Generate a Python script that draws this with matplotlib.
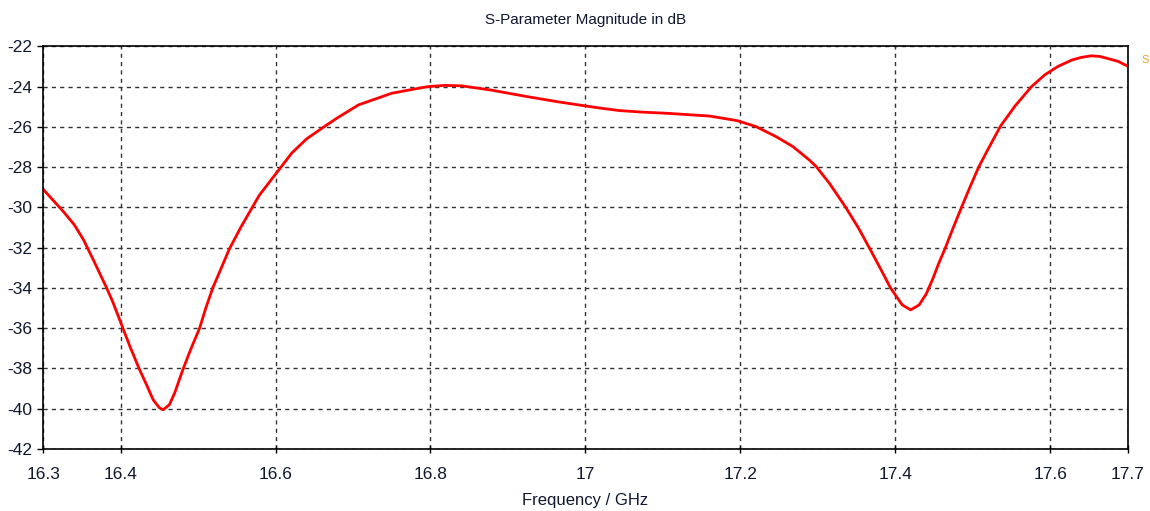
import matplotlib.pyplot as plt

# Data
freq_ghz = [16.300, 16.326, 16.340, 16.352, 16.366, 16.382, 16.390, 16.400, 16.412,
            16.425, 16.434, 16.442, 16.450, 16.455, 16.463, 16.470, 16.480, 16.490,
            16.502, 16.510, 16.519, 16.529, 16.540, 16.555, 16.570, 16.579, 16.600,
            16.621, 16.640, 16.664, 16.680, 16.707, 16.730, 16.750, 16.775, 16.797,
            16.818, 16.840, 16.878, 16.921, 16.964, 17.000, 17.020, 17.044, 17.075,
            17.108, 17.135, 17.160, 17.196, 17.220, 17.247, 17.268, 17.289, 17.298,
            17.315, 17.336, 17.353, 17.370, 17.380, 17.394, 17.409, 17.420, 17.431,
            17.440, 17.448, 17.456, 17.465, 17.475, 17.486, 17.497, 17.508, 17.520,
            17.536, 17.555, 17.576, 17.593, 17.610, 17.628, 17.640, 17.653, 17.664,
            17.674, 17.688, 17.700]
s11_db = [-29.1, -30.2, -30.85, -31.6, -32.7, -34.0, -34.7, -35.7, -36.9,
          -38.1, -38.85, -39.55, -39.95, -40.05, -39.8, -39.2, -38.1, -37.1,
          -36.0, -35.0, -34.0, -33.1, -32.1, -31.0, -30.0, -29.4, -28.35,
          -27.3, -26.6, -25.96, -25.55, -24.91, -24.6, -24.33, -24.15, -24.0,
          -23.94, -23.96, -24.17, -24.47, -24.75, -24.96, -25.07, -25.19, -25.27,
          -25.33, -25.4, -25.46, -25.69, -25.98, -26.5, -26.98, -27.64, -27.97,
          -28.8, -29.99, -31.05, -32.25, -32.97, -34.0, -34.84, -35.09, -34.84,
          -34.3, -33.6, -32.8, -31.98, -31.0, -29.96, -28.95, -27.98, -27.1,
          -25.96, -24.95, -24.0, -23.42, -23.0, -22.68, -22.55, -22.47, -22.5,
          -22.6, -22.75, -22.98]

x_ticks = [16.3, 16.4, 16.6, 16.8, 17.0, 17.2, 17.4, 17.6, 17.7]
x_labels = ['16.3', '16.4', '16.6', '16.8', '17', '17.2', '17.4', '17.6', '17.7']
y_ticks = list(range(-42, -21, 2))

plt.rcParams['font.family'] = ['Liberation Sans', 'DejaVu Sans']
plt.rcParams['axes.unicode_minus'] = False
txt = '#101830'

fig = plt.figure(figsize=(11.5, 5.11), dpi=100)
ax = fig.add_axes([0.0375, 0.1213, 0.943, 0.788])

ax.plot(freq_ghz, s11_db, color='#ff0000', linewidth=2)

ax.set_xlim(16.3, 17.7)
ax.set_ylim(-42, -22)
ax.set_xticks(x_ticks)
ax.set_xticklabels(x_labels)
ax.set_yticks(y_ticks)

ax.grid(True, color='#333333', linestyle=(0, (3, 3)), linewidth=1)
ax.tick_params(axis='y', direction='out', length=4, width=1, labelsize=12.5, colors='black', labelcolor=txt, pad=4)
ax.tick_params(axis='x', direction='inout', length=6, width=1, labelsize=12.5, colors='black', labelcolor=txt, pad=10)
for s in ax.spines.values():
    s.set_linewidth(1.2)
    s.set_color('black')

ax.set_title('S-Parameter Magnitude in dB', fontsize=11, color=txt, pad=16)
ax.set_xlabel('Frequency / GHz', fontsize=12, color=txt, labelpad=8)

# clipped legend fragment at the right edge
fig.text(0.993, 0.877, 'S', color='#f0a030', fontsize=8)

plt.savefig('out.png', dpi=100)
